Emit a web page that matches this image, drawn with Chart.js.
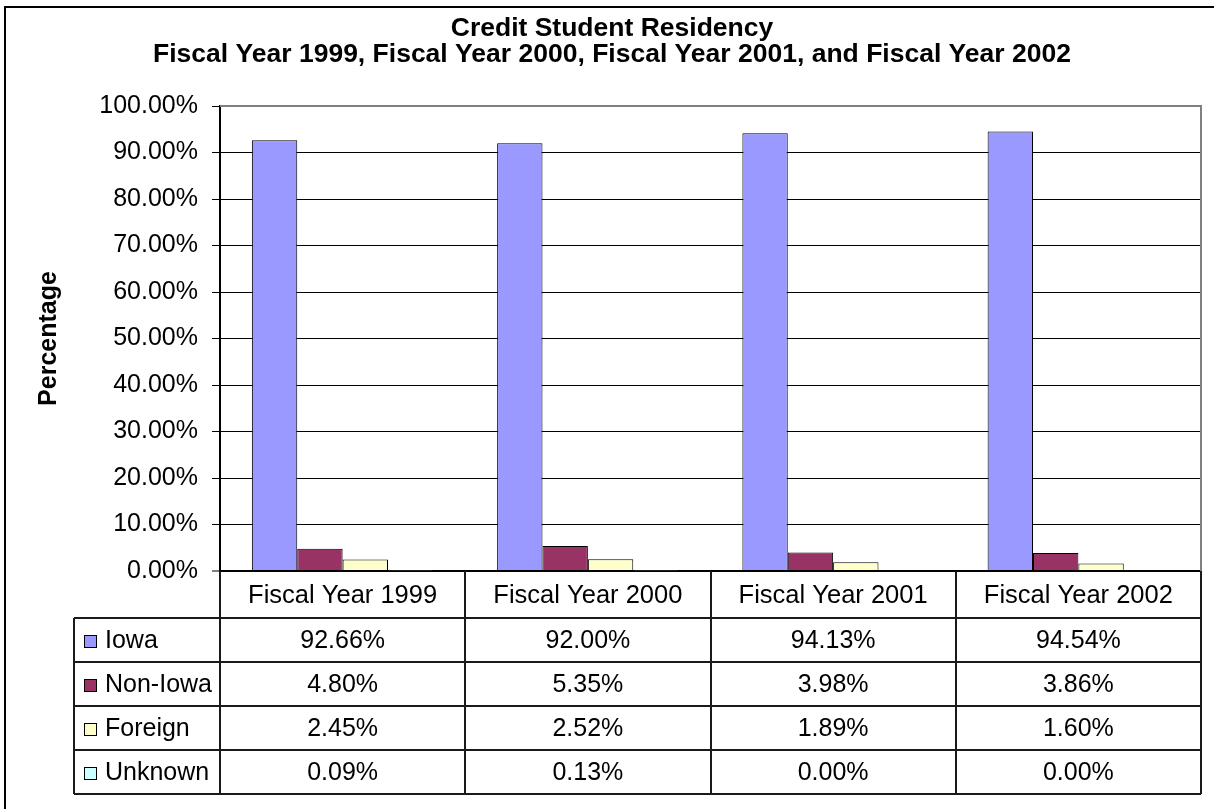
<!DOCTYPE html>
<html lang="en">
<head>
<meta charset="utf-8">
<title>Credit Student Residency</title>
<script src="https://cdn.jsdelivr.net/npm/chart.js"></script>
<style>
  html, body { margin: 0; padding: 0; background: #fff; }
  #wrap { position: relative; width: 1214px; height: 809px; }
</style>
</head>
<body>
<div id="wrap"><canvas id="residencyChart"></canvas></div>
<script>
  // Chart data
  const years = ['Fiscal Year 1999', 'Fiscal Year 2000', 'Fiscal Year 2001', 'Fiscal Year 2002'];
  const iowa = [92.66, 92.00, 94.13, 94.54];
  const nonIowa = [4.80, 5.35, 3.98, 3.86];
  const foreign = [2.45, 2.52, 1.89, 1.60];
  const unknown = [0.09, 0.13, 0.00, 0.00];
  const seriesNames = ['Iowa', 'Non-Iowa', 'Foreign', 'Unknown'];
  const seriesColors = ['#9999FF', '#993366', '#FFFFCC', '#CCFFFF'];
  const titleLines = ['Credit Student Residency',
                      'Fiscal Year 1999, Fiscal Year 2000, Fiscal Year 2001, and Fiscal Year 2002'];

  const FONT = '"Liberation Sans", Arial, sans-serif';
  Chart.defaults.font.family = FONT;
  Chart.defaults.font.size = 25;
  Chart.defaults.color = '#000';

  const fmt = v => v.toFixed(2) + '%';

  // outer frame, gray plot border and the two-line title
  const frame = {
    id: 'frame',
    beforeDatasetsDraw(chart) {
      const { ctx, chartArea: a } = chart;
      ctx.save();
      ctx.strokeStyle = '#808080';
      ctx.lineWidth = 2;
      ctx.beginPath();
      ctx.moveTo(a.left, a.top);
      ctx.lineTo(a.right, a.top);
      ctx.lineTo(a.right, a.bottom);
      ctx.stroke();
      ctx.restore();
    },
    afterDraw(chart) {
      const ctx = chart.ctx;
      ctx.save();
      ctx.strokeStyle = '#000';
      ctx.lineWidth = 2;
      ctx.beginPath();
      ctx.moveTo(5, chart.height);
      ctx.lineTo(5, 7);
      ctx.lineTo(chart.width, 7);
      ctx.stroke();

      ctx.fillStyle = '#000';
      ctx.font = 'bold 26.5px ' + FONT;
      ctx.textAlign = 'center';
      ctx.textBaseline = 'middle';
      titleLines.forEach((t, i) => ctx.fillText(t, 612, 29 + i * 26));
      ctx.restore();
    }
  };

  // data table under the plot
  const dataTable = {
    id: 'dataTable',
    afterDraw(chart) {
      const ctx = chart.ctx;
      const xs = chart.scales.x;
      const a = chart.chartArea;
      const colW = (xs.right - xs.left) / years.length;
      const tableLeft = 74;
      const headerH = 47, rowH = 44;
      const rows = [iowa, nonIowa, foreign, unknown];
      const top = a.bottom;
      const bottom = top + headerH + rowH * rows.length;

      ctx.save();
      ctx.strokeStyle = '#1a1a1a';
      ctx.lineWidth = 2;
      ctx.beginPath();
      for (let i = 0; i <= years.length; i++) {
        const x = Math.round(xs.left + i * colW);
        ctx.moveTo(x, top);
        ctx.lineTo(x, bottom);
      }
      ctx.moveTo(tableLeft, top + headerH);
      ctx.lineTo(tableLeft, bottom);
      for (let r = 0; r <= rows.length; r++) {
        const y = top + headerH + r * rowH;
        ctx.moveTo(tableLeft, y);
        ctx.lineTo(xs.right, y);
      }
      ctx.stroke();

      ctx.fillStyle = '#000';
      ctx.textBaseline = 'middle';
      ctx.textAlign = 'center';
      ctx.font = '25.5px ' + FONT;
      years.forEach((lbl, i) => {
        ctx.fillText(lbl, xs.getPixelForValue(i), top + headerH / 2 + 1);
      });

      ctx.font = '25px ' + FONT;
      rows.forEach((vals, r) => {
        const cy = top + headerH + r * rowH + rowH / 2 + 1;
        ctx.textAlign = 'center';
        vals.forEach((v, i) => ctx.fillText(fmt(v), xs.getPixelForValue(i), cy));
        // legend key
        ctx.fillStyle = seriesColors[r];
        ctx.fillRect(84, cy - 6, 13, 13);
        ctx.lineWidth = 1;
        ctx.strokeStyle = '#000';
        ctx.strokeRect(84.5, cy - 5.5, 12, 12);
        ctx.fillStyle = '#000';
        ctx.textAlign = 'left';
        ctx.fillText(seriesNames[r], 105, cy);
      });
      ctx.restore();
    }
  };

  const ctx = document.getElementById('residencyChart').getContext('2d');
  new Chart(ctx, {
    type: 'bar',
    data: {
      labels: years,
      datasets: [iowa, nonIowa, foreign, unknown].map((d, i) => ({
        label: seriesNames[i],
        data: d,
        backgroundColor: seriesColors[i],
        borderColor: '#000',
        borderWidth: 1,
        categoryPercentage: 0.74,
        barPercentage: 1.0
      }))
    },
    options: {
      responsive: true,
      maintainAspectRatio: false,
      animation: false,
      layout: { padding: { top: 106, right: 13, bottom: 238, left: 0 } },
      plugins: {
        legend: { display: false },
        tooltip: { enabled: false },
        title: { display: false }
      },
      scales: {
        x: { display: false },
        y: {
          min: 0,
          max: 100,
          ticks: { stepSize: 10, padding: 14, callback: v => fmt(v) },
          grid: {
            color: c => c.tick && c.tick.value === 100 ? '#808080' : '#000',
            lineWidth: c => c.tick && c.tick.value === 0 ? 2 : 1,
            tickLength: 8,
            tickColor: '#000',
            tickWidth: 1
          },
          border: { display: true, color: '#000', width: 2 },
          title: {
            display: true,
            text: 'Percentage',
            font: { size: 25, weight: 'bold' },
            padding: { top: 34, bottom: 0 }
          },
          afterFit(scale) { scale.width = 220; }
        }
      }
    },
    plugins: [frame, dataTable]
  });
</script>
</body>
</html>
